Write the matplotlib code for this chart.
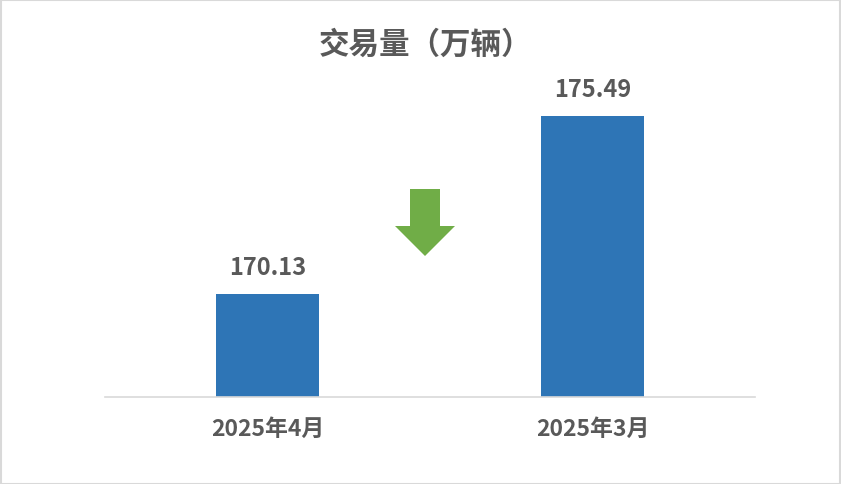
import matplotlib.pyplot as plt
from matplotlib.patches import Polygon, Rectangle

plt.rcParams['font.family'] = ['Noto Sans CJK SC', 'DejaVu Sans']

# données
categories = ["2025年4月", "2025年3月"]
values = [170.13, 175.49]
title = "交易量（万辆）"

bar_color = "#2E75B6"
arrow_color = "#70AD47"
text_color = "#595959"

W, H = 841, 485
fig = plt.figure(figsize=(W / 100, H / 100), dpi=100)
ax = fig.add_axes([105 / W, 1 - 398 / H, 650 / W, 298 / H])

x = range(len(categories))
bars = ax.bar(x, values, width=0.315, color=bar_color)
ax.set_xlim(-0.5, 1.5)
ax.set_ylim(167.03, 176.0)

for b, v in zip(bars, values):
    ax.annotate(f"{v:.2f}", (b.get_x() + b.get_width() / 2, v),
                xytext=(0, 11), textcoords="offset points",
                ha="center", va="bottom", fontsize=17, fontweight="bold",
                color=text_color)

ax.set_xticks(list(x))
ax.set_xticklabels(categories, fontsize=16.5, fontweight="bold", color=text_color)
ax.tick_params(axis="x", length=0, pad=14)
ax.set_yticks([])
for s in ["top", "right", "left"]:
    ax.spines[s].set_visible(False)
ax.spines["bottom"].set_color("#D9D9D9")
ax.spines["bottom"].set_linewidth(1.2)

fig.text(425 / W, 1 - 45 / H, title, ha="center", va="center",
         fontsize=22, fontweight="bold", color=text_color)

# flèche verte (baisse)
pts = [(410, 190), (440, 190), (440, 227), (455, 227), (425, 257),
       (395, 227), (410, 227)]
arrow = Polygon([(px / W, 1 - py / H) for px, py in pts], closed=True,
                transform=fig.transFigure, facecolor=arrow_color,
                edgecolor="none")
fig.patches.append(arrow)

# cadre
fig.patches.append(Rectangle((0.5 / W, 0.5 / H), 1 - 1.5 / W, 1 - 1.5 / H,
                             transform=fig.transFigure, fill=False,
                             edgecolor="#D9D9D9", linewidth=1.5))

fig.savefig("out.png", dpi=100)
